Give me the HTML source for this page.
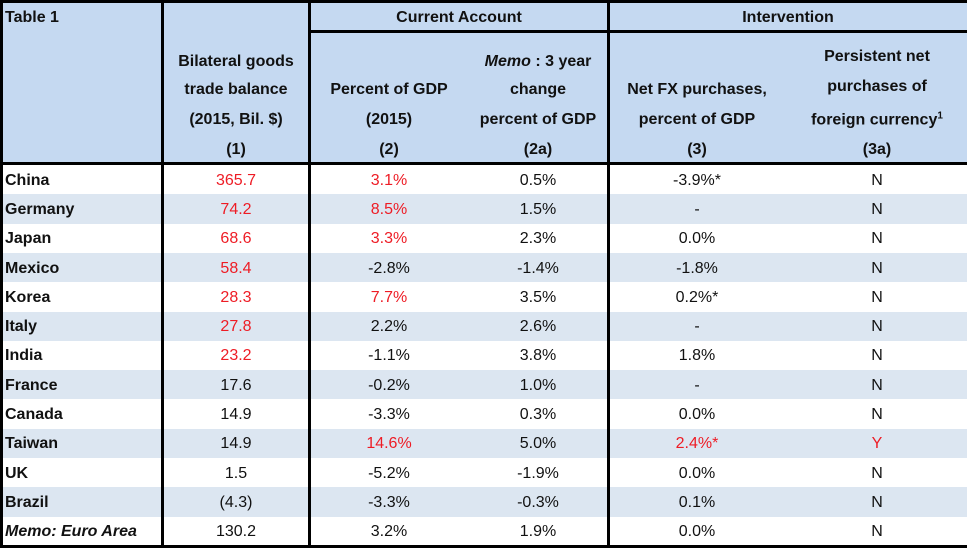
<!DOCTYPE html>
<html><head><meta charset="utf-8">
<style>
body{margin:0;width:967px;height:548px;overflow:hidden;background:#fff;font-family:"Liberation Sans",sans-serif;}
#t{position:absolute;left:0;top:0;width:967px;height:548px;}
.a{position:absolute;white-space:nowrap;}
.hd{font-weight:bold;font-size:16px;color:#111;transform:translate(-50%,-50%);}
.c{font-size:16px;color:#111;transform:translate(-50%,-50%);}
.lab{font-weight:bold;font-size:16px;color:#111;left:5px;transform:translateY(-50%);}
.r{color:#ee1c25;}
.ln{position:absolute;background:#000;}
</style></head><body>
<div id="t">
<div class="a" style="left:0;top:0;width:967px;height:164px;background:#c5d9f1"></div>
<div id="rows"></div>
<div class="ln" style="left:0;top:0;width:967px;height:3px"></div>
<div class="ln" style="left:0;top:0;width:3px;height:548px"></div>
<div class="ln" style="left:0;top:162px;width:967px;height:3px"></div>
<div class="ln" style="left:0;top:545px;width:967px;height:3px"></div>
<div class="ln" style="left:161px;top:0;width:2.5px;height:548px"></div>
<div class="ln" style="left:308px;top:0;width:2.5px;height:548px"></div>
<div class="ln" style="left:607px;top:0;width:2.5px;height:548px"></div>
<div class="ln" style="left:308px;top:30px;width:659px;height:3px"></div>

<div class="a hd" style="left:5px;top:18px;transform:translateY(-50%)">Table 1</div>
<div class="a hd" style="left:459px;top:18px">Current Account</div>
<div class="a hd" style="left:788px;top:18px">Intervention</div>

<div class="a hd" style="left:236px;top:62px">Bilateral goods</div>
<div class="a hd" style="left:236px;top:90px">trade balance</div>
<div class="a hd" style="left:236px;top:120px">(2015, Bil. $)</div>
<div class="a hd" style="left:236px;top:150px">(1)</div>

<div class="a hd" style="left:389px;top:90px">Percent of GDP</div>
<div class="a hd" style="left:389px;top:120px">(2015)</div>
<div class="a hd" style="left:389px;top:150px">(2)</div>

<div class="a hd" style="left:538px;top:62px"><i>Memo</i> : 3 year</div>
<div class="a hd" style="left:538px;top:90px">change</div>
<div class="a hd" style="left:538px;top:120px">percent of GDP</div>
<div class="a hd" style="left:538px;top:150px">(2a)</div>

<div class="a hd" style="left:697px;top:90px">Net FX purchases,</div>
<div class="a hd" style="left:697px;top:120px">percent of GDP</div>
<div class="a hd" style="left:697px;top:150px">(3)</div>

<div class="a hd" style="left:877px;top:57px">Persistent net</div>
<div class="a hd" style="left:877px;top:87px">purchases of</div>
<div class="a hd" style="left:877px;top:120px">foreign currency<sup style="font-size:10px">1</sup></div>
<div class="a hd" style="left:877px;top:150px">(3a)</div>
</div>
<script>
const countries=["China","Germany","Japan","Mexico","Korea","Italy","India","France","Canada","Taiwan","UK","Brazil","Memo: Euro Area"];
const tradeBalance=["365.7","74.2","68.6","58.4","28.3","27.8","23.2","17.6","14.9","14.9","1.5","(4.3)","130.2"];
const caPct=["3.1%","8.5%","3.3%","-2.8%","7.7%","2.2%","-1.1%","-0.2%","-3.3%","14.6%","-5.2%","-3.3%","3.2%"];
const caChange=["0.5%","1.5%","2.3%","-1.4%","3.5%","2.6%","3.8%","1.0%","0.3%","5.0%","-1.9%","-0.3%","1.9%"];
const fxPurch=["-3.9%*","-","0.0%","-1.8%","0.2%*","-","1.8%","-","0.0%","2.4%*","0.0%","0.1%","0.0%"];
const persistent=["N","N","N","N","N","N","N","N","N","Y","N","N","N"];
const redTrade=[1,1,1,1,1,1,1,0,0,0,0,0,0];
const redCa=[1,1,1,0,1,0,0,0,0,1,0,0,0];
const redFx=[0,0,0,0,0,0,0,0,0,1,0,0,0];
const redPer=[0,0,0,0,0,0,0,0,0,1,0,0,0];
const wrap=document.getElementById('rows');
const top0=165,rh=29.3;
const cx=[236,389,538,697,877];
function cell(x,y,txt,red,name){
  const d=document.createElement('div');
  d.className='a c'+(red?' r':'');
  d.style.left=x+'px';d.style.top=y+'px';d.textContent=txt;
  
  
  wrap.appendChild(d);
}
countries.forEach((c,i)=>{
  const y=top0+i*rh;
  const bg=document.createElement('div');
  bg.className='a';
  bg.style.cssText='left:0;top:'+y+'px;width:967px;height:'+rh+'px;background:'+(i%2?'#dce6f1':'#fff');
  
  
  wrap.appendChild(bg);
  const cy=y+rh/2+1;
  const l=document.createElement('div');
  l.className='a lab';
  l.style.top=cy+'px';
  if(i===countries.length-1){l.style.fontStyle='italic';}
  l.textContent=c;
  
  
  wrap.appendChild(l);
  cell(cx[0],cy,tradeBalance[i],redTrade[i],'trade-balance-cell');
  cell(cx[1],cy,caPct[i],redCa[i],'ca-percent-cell');
  cell(cx[2],cy,caChange[i],0,'ca-change-cell');
  cell(cx[3],cy,fxPurch[i],redFx[i],'fx-purchases-cell');
  cell(cx[4],cy,persistent[i],redPer[i],'persistent-cell');
});
</script>
</body></html>
